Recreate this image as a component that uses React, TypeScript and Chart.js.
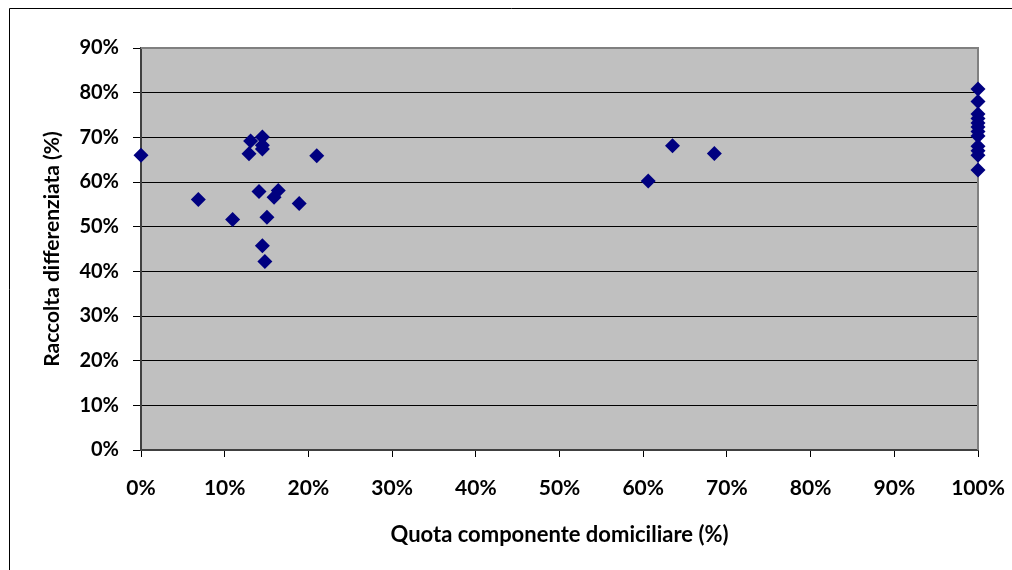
import React, { useEffect, useRef } from "react";
import { Chart, registerables } from "chart.js";

Chart.register(...registerables);

const xQuota: number[] = [0, 6.85, 10.95, 13.1, 12.9, 14.5, 14.5, 14.5, 14.1, 16.4, 15.9, 18.9, 15.05, 14.5, 14.8, 21.0, 60.6, 63.5, 68.5, 100, 100, 100, 100, 100, 100, 100, 100, 100, 100, 100, 100];
const yRaccolta: number[] = [66.0, 56.1, 51.6, 69.2, 66.3, 70.1, 68.2, 67.4, 57.9, 58.1, 56.6, 55.2, 52.1, 45.7, 42.2, 65.9, 60.2, 68.1, 66.4, 80.8, 78.0, 75.2, 74.2, 73.2, 72.3, 71.3, 70.3, 68.0, 67.0, 66.0, 62.7];

const xTitle = "Quota componente domiciliare (%)";
const yTitle = "Raccolta differenziata (%)";

const FONT = "Lato";

const decorPlugin = {
  id: "decor",
  beforeDraw(chart: any) {
    const { ctx, chartArea } = chart;
    ctx.save();
    ctx.fillStyle = "#ffffff";
    ctx.fillRect(0, 0, chart.width, chart.height);
    ctx.fillStyle = "#C0C0C0";
    ctx.fillRect(chartArea.left, chartArea.top, chartArea.right - chartArea.left, chartArea.bottom - chartArea.top);
    ctx.strokeStyle = "#000000";
    ctx.lineWidth = 1;
    ctx.beginPath();
    ctx.moveTo(9.5, chart.height + 2);
    ctx.lineTo(9.5, 8.5);
    ctx.lineTo(chart.width + 2, 8.5);
    ctx.stroke();
    ctx.restore();
  },
  beforeDatasetsDraw(chart: any) {
    const { ctx, chartArea } = chart;
    ctx.save();
    ctx.strokeStyle = "#808080";
    ctx.lineWidth = 2;
    ctx.beginPath();
    ctx.moveTo(chartArea.left, Math.round(chartArea.top));
    ctx.lineTo(Math.round(chartArea.right), Math.round(chartArea.top));
    ctx.lineTo(Math.round(chartArea.right), chartArea.bottom);
    ctx.stroke();
    ctx.restore();
  },
};

export default function App() {
  const ref = useRef<HTMLCanvasElement | null>(null);
  useEffect(() => {
    if (!ref.current) return;
    const points = xQuota.map((x, i) => ({ x, y: yRaccolta[i] }));
    const chart = new Chart(ref.current, {
      type: "scatter",
      data: {
        datasets: [
          {
            data: points,
            clip: false,
            pointStyle: "rectRot",
            pointRadius: 7.5,
            pointBackgroundColor: "#000080",
            pointBorderColor: "#000080",
            pointBorderWidth: 0,
          },
        ],
      },
      options: {
        animation: false,
        responsive: false,
        maintainAspectRatio: false,
        layout: { padding: { left: 0, top: 48, right: 34, bottom: 0 } },
        plugins: { legend: { display: false }, tooltip: { enabled: false } },
        scales: {
          x: {
            type: "linear",
            min: 0,
            max: 100,
            afterFit: (s: any) => { s.height = 120; s.paddingLeft = 0; s.paddingRight = 0; },
            ticks: {
              stepSize: 10,
              padding: 19,
              color: "#000",
              font: { family: FONT, size: 21, weight: "bold" },
              callback: (v: any) => v + "%",
            },
            grid: { drawOnChartArea: false, drawTicks: true, tickLength: 7, color: "#000" },
            border: { color: "#404040", width: 2 },
            title: {
              display: true,
              text: xTitle,
              color: "#000",
              font: { family: FONT, size: 22, weight: "bold" },
              padding: { top: 0, bottom: 22 },
            },
          },
          y: {
            type: "linear",
            min: 0,
            max: 90,
            afterFit: (s: any) => { s.width = 141; },
            ticks: {
              stepSize: 10,
              padding: 14,
              color: "#000",
              font: { family: FONT, size: 20, weight: "bold" },
              callback: (v: any) => v + "%",
            },
            grid: { drawOnChartArea: true, drawTicks: true, tickLength: 8, color: "#000", lineWidth: 1 },
            border: { color: "#404040", width: 2 },
            title: {
              display: true,
              text: yTitle,
              color: "#000",
              font: { family: FONT, size: 21, weight: "bold" },
              padding: { top: 40, bottom: 0 },
            },
          },
        },
      },
      plugins: [decorPlugin],
    });
    return () => chart.destroy();
  }, []);
  return (
    <div style={{ position: "fixed", left: 0, top: 0, width: 1012, height: 570, background: "#fff" }}>
      <canvas ref={ref} width={1012} height={570} style={{ display: "block", width: 1012, height: 570 }} />
    </div>
  );
}
